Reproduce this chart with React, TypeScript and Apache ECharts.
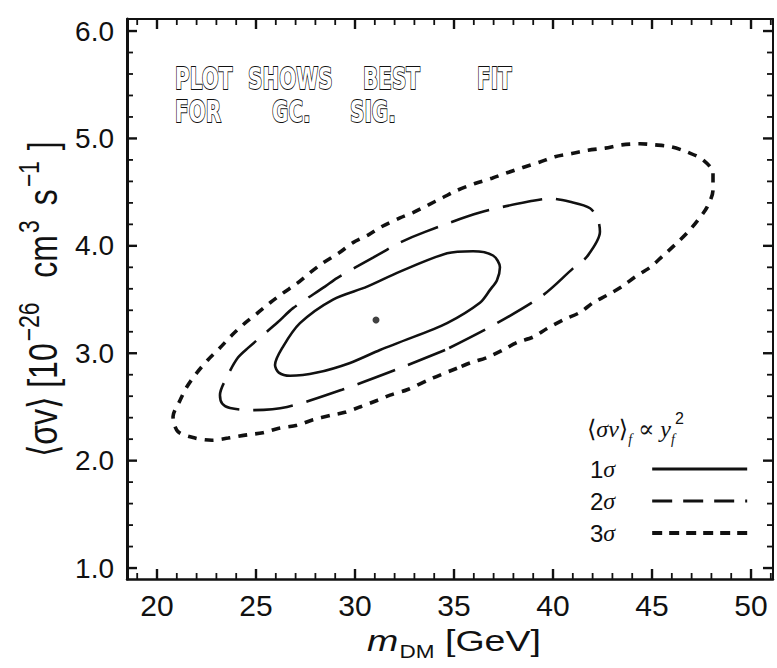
import React, { useEffect, useRef } from "react";
import * as echarts from "echarts";

// ---- data ----
const xMajorTicks = [20, 25, 30, 35, 40, 45, 50];
const xMinorTicks = [19, 21, 22, 23, 24, 26, 27, 28, 29, 31, 32, 33, 34, 36, 37, 38, 39, 41, 42, 43, 44, 46, 47, 48, 49, 51];
const yMajorTicks = [1, 2, 3, 4, 5, 6];
const yMinorTicks = [1.2, 1.4, 1.6, 1.8, 2.2, 2.4, 2.6, 2.8, 3.2, 3.4, 3.6, 3.8, 4.2, 4.4, 4.6, 4.8, 5.2, 5.4, 5.6, 5.8];

const seriesNames = ["1σ", "2σ", "3σ"];

const sigma1: [number, number][] = [
  [32.93, 3.15], [31.26, 3.03], [29.75, 2.91], [28.08, 2.82], [26.72, 2.79], [26.15, 2.82], [25.96, 2.89],
  [26.36, 3.06], [27.22, 3.28], [28.89, 3.5], [30.61, 3.62], [32.27, 3.76], [34.65, 3.93], [35.96, 3.95],
  [36.97, 3.91], [37.32, 3.8], [37.17, 3.68], [36.82, 3.59], [36.31, 3.47], [34.65, 3.28], [32.93, 3.15],
];

const sigma2: [number, number][] = [
  [34.55, 3.03], [32.12, 2.85], [29.34, 2.66], [26.57, 2.5], [24.7, 2.47], [23.69, 2.49], [23.3, 2.53],
  [23.18, 2.61], [23.59, 2.8], [24.09, 2.96], [24.6, 3.05], [26.11, 3.29], [26.87, 3.42], [28.48, 3.62],
  [29.09, 3.7], [30.91, 3.89], [32.27, 4.03], [33.54, 4.13], [36.31, 4.31], [38.99, 4.42], [39.85, 4.44],
  [40.86, 4.41], [41.87, 4.35], [42.27, 4.24], [42.37, 4.13], [41.72, 3.9], [41.01, 3.79], [39.49, 3.54],
  [37.17, 3.28], [34.55, 3.03],
];

const sigma3: [number, number][] = [
  [35.15, 2.86], [33.94, 2.77], [32.63, 2.66], [31.77, 2.61], [31.11, 2.56], [30.25, 2.5], [29.49, 2.45],
  [28.74, 2.42], [27.88, 2.38], [27.07, 2.33], [26.11, 2.3], [25.35, 2.26], [24.55, 2.24], [23.59, 2.21],
  [22.78, 2.19], [21.92, 2.21], [21.06, 2.27], [20.81, 2.41], [21.16, 2.56], [21.52, 2.69], [22.02, 2.82],
  [22.58, 2.94], [23.18, 3.05], [23.79, 3.17], [24.44, 3.28], [25.05, 3.37], [25.71, 3.47], [26.36, 3.56],
  [27.07, 3.65], [27.73, 3.75], [28.38, 3.84], [29.24, 3.94], [29.9, 4.03], [30.66, 4.1], [31.36, 4.18],
  [32.27, 4.26], [32.93, 4.31], [33.69, 4.38], [34.44, 4.45], [35.2, 4.52], [36.06, 4.58], [36.92, 4.63],
  [37.68, 4.68], [38.48, 4.73], [39.34, 4.78], [40.1, 4.83], [40.96, 4.86], [41.77, 4.89], [42.63, 4.91],
  [43.48, 4.94], [44.39, 4.95], [45.15, 4.94], [46.01, 4.92], [46.82, 4.87], [47.58, 4.8], [48.08, 4.68],
  [48.08, 4.52], [47.78, 4.36], [47.32, 4.24], [46.77, 4.12], [46.16, 4.01], [45.51, 3.9], [44.9, 3.8],
  [44.14, 3.71], [43.48, 3.62], [42.73, 3.54], [42.02, 3.47], [41.36, 3.38], [40.51, 3.31], [39.7, 3.23],
  [38.99, 3.15], [38.18, 3.1], [37.47, 3.03], [36.67, 2.96], [35.81, 2.91], [35.15, 2.86],
];

const bestFit: [number, number][] = [[31.06, 3.31]];

const noteLine1 = ["PLOT", "SHOWS", "BEST", "FIT"];
const noteLine2 = ["FOR", "GC.", "SIG."];

// ---- layout ----
const X_MIN = 18.485;
const X_MAX = 51.11;
const Y_MIN = 0.898;
const Y_MAX = 6.112;
const INK = "#111";
const SANS = "'Liberation Sans', Arial, Helvetica, sans-serif";
const SERIF = "'Liberation Serif', 'DejaVu Serif', serif";

// frame-tick marks: short bars drawn through the axes' own scales
function tickSeries(values: number[], side: "bottom" | "top" | "left" | "right", len: number, width: number) {
  return {
    type: "custom",
    xAxisIndex: 0,
    yAxisIndex: 0,
    silent: true,
    clip: false,
    z: 5,
    data: values,
    renderItem: (params: any, api: any) => {
      const v = api.value(0);
      const horizontalAxis = side === "bottom" || side === "top";
      const p = horizontalAxis
        ? api.coord([v, side === "bottom" ? Y_MIN : Y_MAX])
        : api.coord([side === "left" ? X_MIN : X_MAX, v]);
      const dir = side === "bottom" || side === "right" ? -1 : 1;
      const rect = horizontalAxis
        ? { x: p[0] - width / 2, y: dir < 0 ? p[1] - len : p[1], width, height: len }
        : { x: dir < 0 ? p[0] - len : p[0], y: p[1] - width / 2, width: len, height: width };
      return { type: "rect", shape: rect, style: { fill: INK } };
    },
  };
}

export default function App() {
  const ref = useRef<HTMLDivElement>(null);

  useEffect(() => {
    if (!ref.current) return;
    const chart = echarts.init(ref.current, undefined, { renderer: "svg" });

    const xBase = { type: "value", min: X_MIN, max: X_MAX, splitLine: { show: false }, axisTick: { show: false } };
    const yBase = { type: "value", min: Y_MIN, max: Y_MAX, splitLine: { show: false }, axisTick: { show: false } };

    const note1X = [175, 248, 363, 477];
    const note2X = [175, 272, 350];
    const noteStyle = {
      fontSize: 20, fontFamily: "'DejaVu Sans', sans-serif", fontWeight: "bold",
      fill: "#ffffff", stroke: "#111", lineWidth: 1.2, verticalAlign: "middle",
    };

    const option: any = {
      animation: false,
      backgroundColor: "#ffffff",
      grid: { left: 127, right: 4, top: 19, bottom: 89, containLabel: false },
      xAxis: [
        {
          ...xBase, position: "bottom",
          axisLine: { show: true, onZero: false, lineStyle: { color: INK, width: 2.5 } },
          axisLabel: {
            show: true, customValues: xMajorTicks, fontSize: 30, color: INK, fontFamily: SANS, margin: 11,
            formatter: (v: number) => String(Math.round(v)),
          },
        },
        { ...xBase, position: "top", axisLine: { show: true, onZero: false, lineStyle: { color: INK, width: 2 } }, axisLabel: { show: false } },
      ],
      yAxis: [
        {
          ...yBase, position: "left",
          axisLine: { show: true, onZero: false, lineStyle: { color: INK, width: 3 } },
          axisLabel: {
            show: true, customValues: yMajorTicks, fontSize: 28, color: INK, fontFamily: SANS, margin: 13,
            formatter: (v: number) => v.toFixed(1),
          },
        },
        { ...yBase, position: "right", axisLine: { show: true, onZero: false, lineStyle: { color: INK, width: 2 } }, axisLabel: { show: false } },
      ],
      legend: {
        data: [
          { name: seriesNames[0], lineStyle: { type: "solid", width: 3 } },
          { name: seriesNames[1], lineStyle: { type: [20, 11], width: 3 } },
          { name: seriesNames[2], lineStyle: { type: [10, 7], width: 4 } },
        ],
        orient: "vertical",
        left: 585,
        top: 452,
        align: "right",
        itemWidth: 95,
        itemHeight: 14,
        itemGap: 8,
        selectedMode: false,
        itemStyle: { color: "rgba(0,0,0,0)", borderWidth: 0, opacity: 0 },
        formatter: (name: string) => `{n|${name.slice(0, 1)}}{g|σ}`,
        textStyle: {
          color: INK, fontSize: 22, lineHeight: 24,
          rich: {
            n: { fontSize: 24, fontFamily: SANS, color: INK },
            g: { fontSize: 24, fontFamily: SERIF, fontStyle: "italic", color: INK, padding: [0, 32, 0, 0] },
          },
        },
      },
      series: [
        {
          name: seriesNames[0], type: "line", data: sigma1, xAxisIndex: 0, yAxisIndex: 0,
          symbol: "none", showSymbol: false, smooth: 0.3,
          lineStyle: { color: INK, width: 2.6, type: "solid" }, itemStyle: { color: INK },
        },
        {
          name: seriesNames[1], type: "line", data: sigma2, xAxisIndex: 0, yAxisIndex: 0,
          symbol: "none", showSymbol: false, smooth: 0.3,
          lineStyle: { color: INK, width: 2.6, type: [40, 14] }, itemStyle: { color: INK },
        },
        {
          name: seriesNames[2], type: "line", data: sigma3, xAxisIndex: 0, yAxisIndex: 0,
          symbol: "none", showSymbol: false, smooth: 0.3,
          lineStyle: { color: INK, width: 3.6, type: [9, 8] }, itemStyle: { color: INK },
        },
        {
          name: "best fit", type: "scatter", data: bestFit, xAxisIndex: 0, yAxisIndex: 0,
          symbol: "circle", symbolSize: 7, itemStyle: { color: INK },
        },
        tickSeries(xMajorTicks, "bottom", 10, 2.4),
        tickSeries(xMinorTicks, "bottom", 6, 1.8),
        tickSeries(xMajorTicks, "top", 10, 2.4),
        tickSeries(xMinorTicks, "top", 6, 1.8),
        tickSeries(yMajorTicks, "left", 10, 2.4),
        tickSeries(yMinorTicks, "left", 6, 1.8),
        tickSeries(yMajorTicks, "right", 10, 2.4),
        tickSeries(yMinorTicks, "right", 6, 1.8),
      ],
      graphic: {
        elements: [
          ...noteLine1.map((w, i) => ({
            type: "text", x: note1X[i], y: 78, scaleY: 1.55, silent: true, style: { ...noteStyle, text: w },
          })),
          ...noteLine2.map((w, i) => ({
            type: "text", x: note2X[i], y: 111, scaleY: 1.55, silent: true, style: { ...noteStyle, text: w },
          })),
          // legend title
          {
            type: "text", x: 587, y: 428, silent: true,
            style: {
              text: "{p|⟨}{i|σv}{p|⟩}{s|f}{p| ∝ }{i|y}{s|f}{u|2}",
              verticalAlign: "middle",
              rich: {
                p: { fontSize: 24, fontFamily: SERIF, fill: INK, verticalAlign: "bottom", padding: [0, 0, 5, 0] },
                i: { fontSize: 24, fontFamily: SERIF, fontStyle: "italic", fill: INK, verticalAlign: "bottom", padding: [0, 0, 5, 0] },
                s: { fontSize: 14, fontFamily: SERIF, fontStyle: "italic", fill: INK, verticalAlign: "bottom" },
                u: { fontSize: 16, fontFamily: SANS, fill: INK, verticalAlign: "bottom", padding: [0, 0, 20, 0] },
              },
            },
          },
          // x axis title
          {
            type: "text", x: 454, y: 643, scaleX: 1.25, silent: true,
            style: {
              text: "{i|m}{sub|DM}{t| [GeV]}",
              align: "center", verticalAlign: "middle",
              rich: {
                i: { fontSize: 30, fontStyle: "italic", fontFamily: SANS, fill: INK, verticalAlign: "bottom", padding: [0, 1, 5, 0] },
                sub: { fontSize: 18, fontFamily: SANS, fill: INK, verticalAlign: "bottom" },
                t: { fontSize: 30, fontFamily: SANS, fill: INK, verticalAlign: "bottom", padding: [0, 0, 5, 0] },
              },
            },
          },
          // y axis title
          {
            type: "text", x: 39, y: 299, rotation: Math.PI / 2, scaleY: 1.27, silent: true,
            style: {
              text: "{a|⟨σv⟩ [10}{sup|−26}{g| }{a|cm}{sup|3}{h| }{a|s}{sup|−1}{a| ]}",
              align: "center", verticalAlign: "middle",
              rich: {
                a: { fontSize: 32, fontFamily: SANS, fill: INK, verticalAlign: "bottom" },
                sup: { fontSize: 23, fontFamily: SANS, fill: INK, verticalAlign: "bottom", padding: [0, 2, 16, 2] },
                g: { fontSize: 32, fontFamily: SANS, fill: INK, verticalAlign: "bottom", padding: [0, 14, 0, 0] },
                h: { fontSize: 32, fontFamily: SANS, fill: INK, verticalAlign: "bottom", padding: [0, 4, 0, 0] },
              },
            },
          },
        ],
      },
    };

    chart.setOption(option);
    return () => chart.dispose();
  }, []);

  return (
    <div
      ref={ref}
      style={{ position: "absolute", left: 0, top: 0, width: 777, height: 668, background: "#fff" }}
    />
  );
}
